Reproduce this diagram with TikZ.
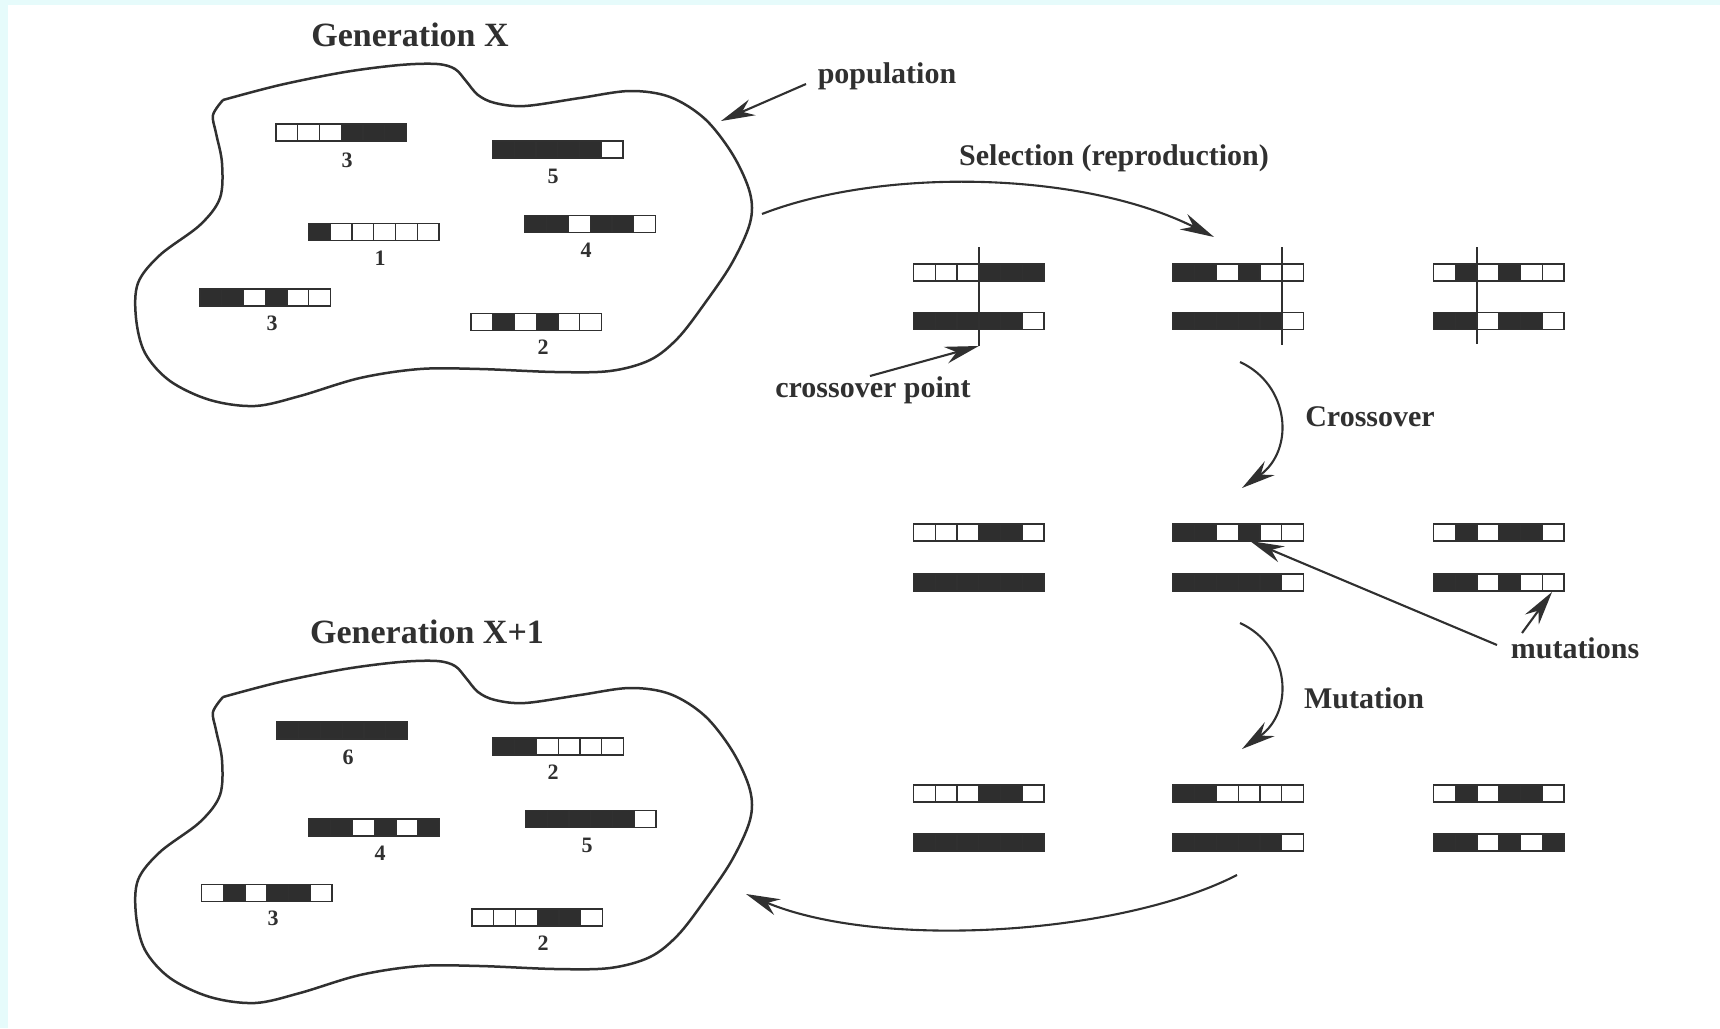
\documentclass[tikz,border=0pt]{standalone}
\usepackage{fontspec}
\setmainfont{Liberation Serif}
\usetikzlibrary{arrows.meta}
\definecolor{W}{HTML}{FFFFFF}
\definecolor{B}{HTML}{2E2E2E}
\definecolor{ink}{HTML}{303030}
\definecolor{bgcyan}{HTML}{E6FBFB}
\newcommand{\chromo}[3]{%
  \foreach \c [count=\i from 0] in {#3} {
    \filldraw[cellstyle, fill=\c] ({#1+\i*21.75},{#2}) rectangle ++(21.75,17);
  }%
}
\newcommand{\blobshape}{%
  \draw[blob] plot[smooth, tension=0.55] coordinates {
    (223,697) (280,682) (345,669) (400,662) (437,661) (455,666) (466,678)
    (478,692) (495,700) (525,703) (580,695) (630,688) (670,694) (705,716)
    (733,752) (750,790) (750,820) (732,860) (705,900) (678,935) (650,957)
    (610,968) (555,969) (480,966) (420,966) (360,975) (300,993) (255,1003)
    (210,997) (170,978) (145,950) (136,915) (138,880) (160,852) (200,822)
    (220,795) (222,760) (216,730) (213,712) (223,697)};%
}
\begin{document}
\begin{tikzpicture}[x=1pt,y=-1pt,
  cellstyle/.style={draw=ink, line width=1.3pt},
  lbl/.style={font=\bfseries\fontsize{30}{36}\selectfont, text=ink, inner sep=0pt},
  gen/.style={font=\bfseries\fontsize{34}{40}\selectfont, text=ink, inner sep=0pt},
  num/.style={font=\bfseries\fontsize{22}{26}\selectfont, text=ink, inner sep=0pt},
  blob/.style={draw=ink, line width=2.5pt, line join=miter},
  arr/.style={draw=ink, line width=2.1pt, -{Stealth[length=34pt,width=17pt,inset=11pt]}},
  cut/.style={draw=ink, line width=1.6pt}]

\useasboundingbox (0,0) rectangle (1720,1028);
\fill[white] (0,0) rectangle (1720,1028);
\fill[bgcyan] (0,0) rectangle (1720,5);
\fill[bgcyan] (0,0) rectangle (8,1028);

% populations
\begin{scope}[yshift=597pt]
  \blobshape
\end{scope}
\blobshape

% titles
\node[gen] (gx) at (410,35) {Generation X};
\node[gen] (gx1) at (427,632) {Generation X+1};
\node[lbl] (pop) at (887,76) {population};
\node[lbl] (sel) at (1114,158) {Selection (reproduction)};
\node[lbl] (cop) at (873,390) {crossover point};
\node[lbl] (cross) at (1370,417) {Crossover};
\node[lbl] (mut) at (1364,698) {Mutation};
\node[lbl] (muts) at (1575,648) {mutations};

% Generation X
\chromo{276}{124}{W,W,W,B,B,B}
\node[num] (a1) at (347,160) {3};
\chromo{492.5}{141}{B,B,B,B,B,W}
\node[num] (a2) at (553,176) {5};
\chromo{308.5}{223.5}{B,W,W,W,W,W}
\node[num] (a3) at (380,258) {1};
\chromo{525}{215.5}{B,B,W,B,B,W}
\node[num] (a4) at (586,250) {4};
\chromo{200}{289}{B,B,W,B,W,W}
\node[num] (a5) at (272,323) {3};
\chromo{471}{313.5}{W,B,W,B,W,W}
\node[num] (a6) at (543,347) {2};

% Generation X+1
\chromo{277}{722}{B,B,B,B,B,B}
\node[num] (b1) at (348,757) {6};
\chromo{493}{738}{B,B,W,W,W,W}
\node[num] (b2) at (553,772) {2};
\chromo{309}{819}{B,B,W,B,W,B}
\node[num] (b3) at (380,853) {4};
\chromo{525.5}{810.5}{B,B,B,B,B,W}
\node[num] (b4) at (587,845) {5};
\chromo{201.5}{884.5}{W,B,W,B,B,W}
\node[num] (b5) at (273,918) {3};
\chromo{472}{909}{W,W,W,B,B,W}
\node[num] (b6) at (543,943) {2};

% row 1 (selected)
\chromo{913.5}{264}{W,W,W,B,B,B}
\chromo{913.5}{312.7}{B,B,B,B,B,W}
\chromo{1173}{264}{B,B,W,B,W,W}
\chromo{1173}{312.7}{B,B,B,B,B,W}
\chromo{1433.5}{264}{W,B,W,B,W,W}
\chromo{1433.5}{312.7}{B,B,W,B,B,W}
% row 2 (crossover)
\chromo{913.5}{524}{W,W,W,B,B,W}
\chromo{913.5}{574}{B,B,B,B,B,B}
\chromo{1173}{524}{B,B,W,B,W,W}
\chromo{1173}{574}{B,B,B,B,B,W}
\chromo{1433.5}{524}{W,B,W,B,B,W}
\chromo{1433.5}{574}{B,B,W,B,W,W}
% row 3 (mutation)
\chromo{913.5}{785}{W,W,W,B,B,W}
\chromo{913.5}{834}{B,B,B,B,B,B}
\chromo{1173}{785}{B,B,W,W,W,W}
\chromo{1173}{834}{B,B,B,B,B,W}
\chromo{1433.5}{785}{W,B,W,B,B,W}
\chromo{1433.5}{834}{B,B,W,B,W,B}

% crossover cut lines
\coordinate (c1t) at (978.8,247);
\coordinate (c1b) at (978.8,346);
\coordinate (c2t) at (1282,247);
\coordinate (c2b) at (1282,345);
\coordinate (c3t) at (1477,247);
\coordinate (c3b) at (1477,344);
\draw[cut] (c1t) -- (c1b);
\draw[cut] (c2t) -- (c2b);
\draw[cut] (c3t) -- (c3b);

% arrows
\coordinate (popT) at (806,84);
\coordinate (popH) at (721,121);
\draw[arr] (popT) -- (popH);

\coordinate (s0) at (762,214);
\coordinate (s1) at (1214,237);
\draw[arr] (s0) .. controls (880,168) and (1080,170) .. (s1);

\coordinate (cpT) at (870,376);
\draw[arr] (cpT) -- (c1b);

\coordinate (x0) at (1240,362);
\coordinate (x1) at (1242,488);
\draw[arr] (x0) .. controls (1290,385) and (1295,450) .. (x1);

\coordinate (m0) at (1240,623);
\coordinate (m1) at (1242,749);
\draw[arr] (m0) .. controls (1290,646) and (1295,711) .. (m1);

\coordinate (mt1) at (1497,645);
\coordinate (mh1) at (1250,541);
\draw[arr] (mt1) -- (mh1);
\coordinate (mt2) at (1522,633);
\coordinate (mh2) at (1552,592);
\draw[arr] (mt2) -- (mh2);

\coordinate (r0) at (1237,875);
\coordinate (r1) at (746,894);
\draw[arr] (r0) .. controls (1120,935) and (880,950) .. (r1);
\end{tikzpicture}
\end{document}
